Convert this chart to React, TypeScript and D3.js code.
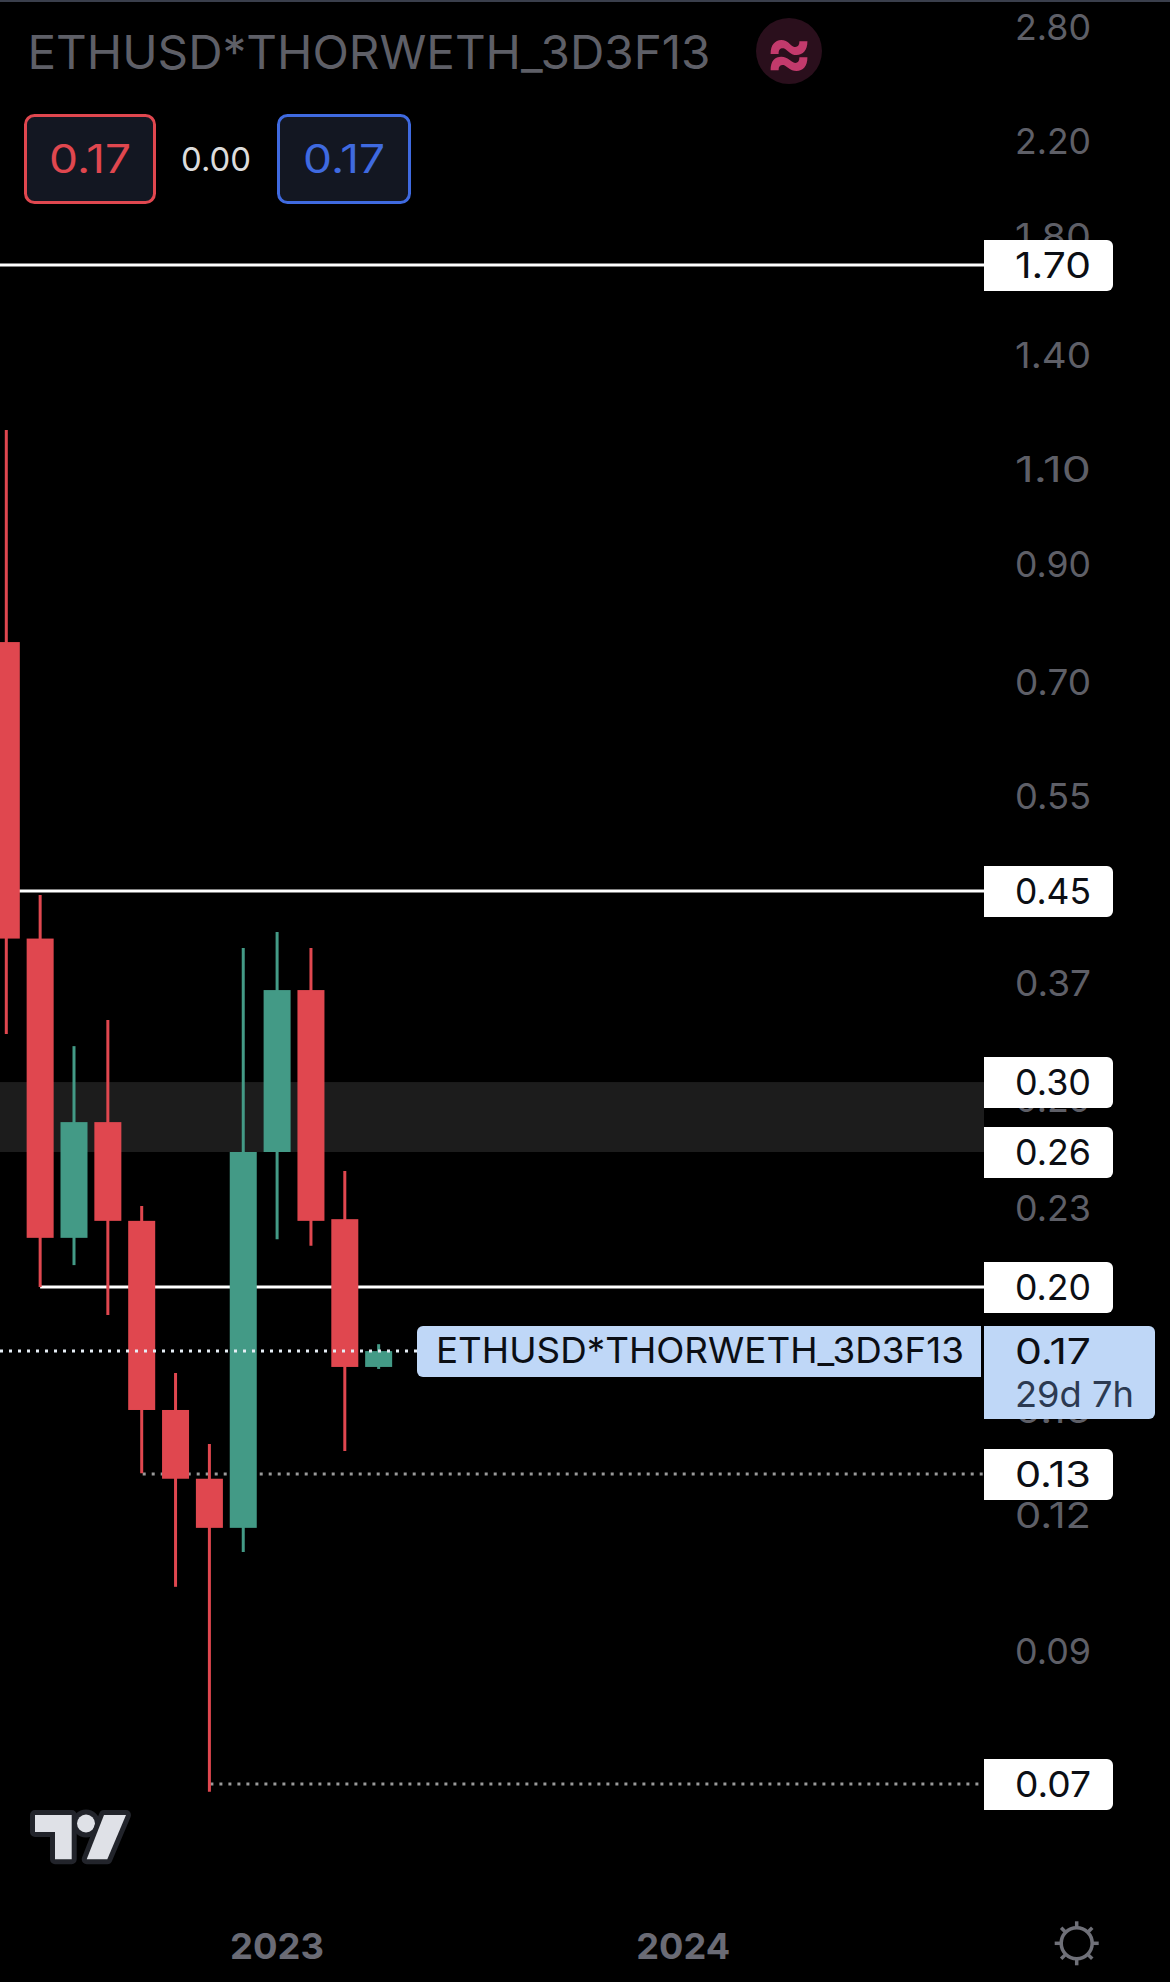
import * as d3 from "d3";

const WIDTH = 1170;
const HEIGHT = 1982;

// monthly candles, May 2022 to Apr 2023
const months = ["2022-05", "2022-06", "2022-07", "2022-08", "2022-09", "2022-10", "2022-11", "2022-12", "2023-01", "2023-02", "2023-03", "2023-04"];
const opens = [0.7616, 0.4066, 0.2158, 0.2757, 0.2237, 0.1499, 0.1296, 0.1168, 0.2588, 0.3646, 0.2245, 0.1642];
const highs = [1.193, 0.4458, 0.3238, 0.3422, 0.2308, 0.1621, 0.1395, 0.3985, 0.4122, 0.3985, 0.2486, 0.1723];
const lows = [0.3322, 0.1945, 0.2037, 0.1833, 0.1311, 0.1031, 0.0668, 0.111, 0.2152, 0.2122, 0.1374, 0.1635];
const closes = [0.4066, 0.2158, 0.2757, 0.2237, 0.1499, 0.1296, 0.1168, 0.2588, 0.3646, 0.2237, 0.1642, 0.1698];

const priceTicks = [2.8, 2.2, 1.8, 1.4, 1.1, 0.9, 0.7, 0.55, 0.45, 0.37, 0.29, 0.23, 0.19, 0.15, 0.12, 0.09];

const solidLevels = [1.692, 0.4497, 0.1945];
const solidLabels = ["1.70", "0.45", "0.20"];
const solidStarts = [-1, 0, 1];
const dottedLevels = [0.1309, 0.0679];
const dottedLabels = ["0.13", "0.07"];
const dottedStarts = [4, 6];
const zoneLevels = [0.3001, 0.2588];
const zoneLabels = ["0.30", "0.26"];

const lastPrice = 0.1698;
const symbol = "ETHUSD*THORWETH_3D3F13";
const countdown = "29d 7h";
const yearLabels = ["2023", "2024"];
const yearIndex = [8, 20];

const UP = "#439a86";
const DOWN = "#e0474f";
const TICK = "#5e5f67";
const FONT = "Inter, 'Noto Sans', sans-serif";

const y = d3.scaleLog().domain([2.8, 0.09]).range([27, 1651]);
const x = d3.scaleLinear().domain([0, 20]).range([6.3, 683.3]);

const tagBox = (yc: number) =>
  `M984,${yc - 25}H1107a6,6 0 0 1 6,6V${yc + 20}a6,6 0 0 1 -6,6H984Z`;

// price scale text is tall and narrow, so squeeze it to the measured width
const Num = ({ yc, color, children }: { yc: number; color: string; children: string }) => (
  <text x={1015} y={yc} dy="0.37em" fontSize={36} fill={color} textLength={76} lengthAdjust="spacingAndGlyphs">
    {children}
  </text>
);

const Tag = ({ value, label }: { value: number; label: string }) => (
  <g>
    <path d={tagBox(y(value))} fill="#fff" />
    <Num yc={y(value)} color="#0b0e14">{label}</Num>
  </g>
);

export default function App() {
  const yLast = y(lastPrice);
  return (
    <svg
      width={WIDTH}
      height={HEIGHT}
      style={{ position: "absolute", left: 0, top: 0, background: "#000", display: "block" }}
      fontFamily={FONT}
    >
      <rect x={0} y={0} width={WIDTH} height={2} fill="#3a3f4c" />

      {priceTicks.map((t) => (
        <Num key={t} yc={y(t)} color={TICK}>{t.toFixed(2)}</Num>
      ))}

      {/* zone */}
      <rect x={0} y={y(zoneLevels[0])} width={984} height={y(zoneLevels[1]) - y(zoneLevels[0])} fill="#1c1c1c" />

      {/* horizontal levels go under the candles */}
      {solidLevels.map((v, i) => (
        <line
          key={v}
          x1={solidStarts[i] < 0 ? 0 : x(solidStarts[i])}
          x2={984}
          y1={y(v)}
          y2={y(v)}
          stroke="#fff"
          strokeWidth={3}
        />
      ))}
      {dottedLevels.map((v, i) => (
        <line
          key={v}
          x1={x(dottedStarts[i]) + 1}
          x2={984}
          y1={y(v)}
          y2={y(v)}
          stroke="#9a9a9a"
          strokeWidth={3}
          strokeDasharray="3 6"
        />
      ))}

      {months.map((m, i) => {
        const up = closes[i] > opens[i];
        const color = up ? UP : DOWN;
        const top = y(Math.max(opens[i], closes[i]));
        const bottom = y(Math.min(opens[i], closes[i]));
        return (
          <g key={m}>
            <line x1={x(i)} x2={x(i)} y1={y(highs[i])} y2={y(lows[i])} stroke={color} strokeWidth={3} />
            <rect x={x(i) - 13.5} y={top} width={27} height={bottom - top} fill={color} />
          </g>
        );
      })}

      {/* current price line sits on top */}
      <line x1={0} x2={417} y1={yLast} y2={yLast} stroke="#e6eef5" strokeWidth={3} strokeDasharray="3 6" />

      {solidLevels.map((v, i) => (
        <Tag key={v} value={v} label={solidLabels[i]} />
      ))}
      {zoneLevels.map((v, i) => (
        <Tag key={v} value={v} label={zoneLabels[i]} />
      ))}
      {dottedLevels.map((v, i) => (
        <Tag key={v} value={v} label={dottedLabels[i]} />
      ))}

      {/* last price tags */}
      <path d="M423,1326H981V1377H423a6,6 0 0 1 -6,-6V1332a6,6 0 0 1 6,-6Z" fill="#bfd7f7" />
      <text x={436} y={yLast} dy="0.34em" fontSize={36} fill="#0b0e14" textLength={528} lengthAdjust="spacingAndGlyphs">
        {symbol}
      </text>
      <path d="M984,1326H1149a6,6 0 0 1 6,6V1413a6,6 0 0 1 -6,6H984Z" fill="#bfd7f7" />
      <Num yc={yLast} color="#0b0e14">{lastPrice.toFixed(2)}</Num>
      <text x={1015} y={1394} dy="0.36em" fontSize={36} fill="#2c3a52" textLength={119} lengthAdjust="spacingAndGlyphs">
        {countdown}
      </text>

      {/* header */}
      <text x={27.5} y={52} dy="0.37em" fontSize={47} fill={TICK} textLength={683} lengthAdjust="spacingAndGlyphs">
        {symbol}
      </text>
      <circle cx={789} cy={51} r={33} fill="#2a0f1c" />
      <text x={789} y={51} dy="0.36em" fontSize={70} fontWeight={700} fill="#c23a6c" textAnchor="middle">
        ≈
      </text>

      <rect x={25.5} y={115.5} width={129} height={87} rx={9} fill="#131722" stroke={DOWN} strokeWidth={3} />
      <text x={49} y={159} dy="0.37em" fontSize={39} fill={DOWN} textLength={82} lengthAdjust="spacingAndGlyphs">
        {lastPrice.toFixed(2)}
      </text>
      <text x={181} y={159} dy="0.37em" fontSize={33} fill="#dcdcdc" textLength={70} lengthAdjust="spacingAndGlyphs">
        0.00
      </text>
      <rect x={278.5} y={115.5} width={131} height={87} rx={9} fill="#131722" stroke="#3f6ae0" strokeWidth={3} />
      <text x={303} y={159} dy="0.37em" fontSize={39} fill="#3f6ae0" textLength={82} lengthAdjust="spacingAndGlyphs">
        {lastPrice.toFixed(2)}
      </text>

      {/* time axis */}
      {yearLabels.map((l, i) => (
        <text
          key={l}
          x={x(yearIndex[i]) - 47}
          y={1946}
          dy="0.37em"
          fontSize={36}
          fontWeight={700}
          fill="#6a6b75"
          textLength={94}
          lengthAdjust="spacingAndGlyphs"
        >
          {l}
        </text>
      ))}

      {/* logo */}
      <g stroke="#22242b" strokeWidth={10} strokeLinejoin="round" fill="#dfe1e7" paintOrder="stroke">
        <path d="M35,1815H71.7V1859.3H55V1832H35Z" />
        <circle cx={86} cy={1823.5} r={9} />
        <path d="M104,1815H126L107.3,1859.3H86.7Z" />
      </g>

      {/* settings */}
      <g fill="none" stroke="#6f7078" strokeWidth={3.5}>
        <circle cx={1076.7} cy={1943.3} r={15.5} />
        {d3.range(8).map((i) => {
          const a = (i * Math.PI) / 4;
          return (
            <line
              key={i}
              x1={1076.7 + 16 * Math.cos(a)}
              y1={1943.3 + 16 * Math.sin(a)}
              x2={1076.7 + 22 * Math.cos(a)}
              y2={1943.3 + 22 * Math.sin(a)}
            />
          );
        })}
      </g>
    </svg>
  );
}
